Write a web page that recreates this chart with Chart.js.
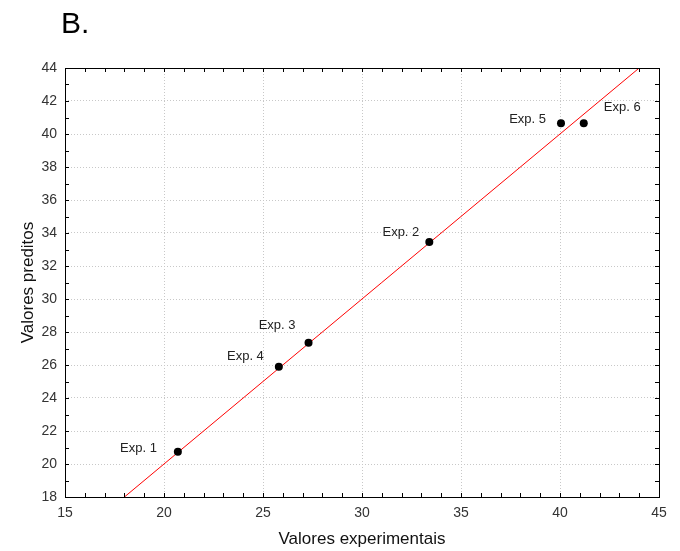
<!DOCTYPE html>
<html>
<head>
<meta charset="utf-8">
<script src="https://cdn.jsdelivr.net/npm/chart.js@4"></script>
<style>
    html, body { margin: 0; padding: 0; background: #fff; }
    #wrap { width: 680px; height: 551px; }
</style>
</head>
<body>
<div id="wrap"><canvas id="predChart" width="680" height="551"></canvas></div>
<script>
const expLabels = ['Exp. 1', 'Exp. 2', 'Exp. 3', 'Exp. 4', 'Exp. 5', 'Exp. 6'];
const experimental = [20.7, 33.4, 27.3, 25.8, 40.05, 41.2];
const predicted = [20.75, 33.45, 27.35, 25.9, 40.65, 40.65];
const fitX = [18, 44];
const fitY = [18, 44];
const xTicks = [15, 20, 25, 30, 35, 40, 45];
const yTicks = [18, 20, 22, 24, 26, 28, 30, 32, 34, 36, 38, 40, 42, 44];

const FONT = '"Liberation Sans", Arial, sans-serif';

// where each point's label sits relative to its dot (px)
const labelOffsets = [
    [-21, -3, 'right'],
    [-10, -10, 'right'],
    [-13, -17, 'right'],
    [-15, -10, 'right'],
    [-15, -4, 'right'],
    [20, -16, 'left']
];

const framePlugin = {
    id: 'frame',
    beforeDraw(chart) {
        const ctx = chart.ctx;
        ctx.save();
        ctx.fillStyle = '#fff';
        ctx.fillRect(0, 0, chart.width, chart.height);
        ctx.fillStyle = '#000';
        ctx.font = '30px ' + FONT;
        ctx.textBaseline = 'alphabetic';
        ctx.textAlign = 'left';
        ctx.fillText('B.', 61, 33);
        ctx.restore();
    },
    afterDatasetsDraw(chart) {
        const ctx = chart.ctx;
        const a = chart.chartArea;
        const xs = chart.scales.x;
        const ys = chart.scales.y;
        ctx.save();
        ctx.strokeStyle = '#000';
        ctx.lineWidth = 1;
        ctx.beginPath();
        // minor ticks, pointing inward on all four sides
        for (let v = xs.min; v <= xs.max; v++) {
            const px = Math.round(xs.getPixelForValue(v)) + 0.5;
            ctx.moveTo(px, a.bottom); ctx.lineTo(px, a.bottom - 4);
            ctx.moveTo(px, a.top); ctx.lineTo(px, a.top + 4);
        }
        for (let v = ys.min; v <= ys.max; v++) {
            const py = Math.round(ys.getPixelForValue(v)) + 0.5;
            ctx.moveTo(a.left, py); ctx.lineTo(a.left + 4, py);
            ctx.moveTo(a.right, py); ctx.lineTo(a.right - 4, py);
        }
        ctx.stroke();
        ctx.strokeRect(Math.round(a.left) + 0.5, Math.round(a.top) + 0.5,
            Math.round(a.right - a.left), Math.round(a.bottom - a.top));

        // point labels
        ctx.fillStyle = '#222';
        ctx.font = '13px ' + FONT;
        ctx.textBaseline = 'middle';
        const meta = chart.getDatasetMeta(1);
        meta.data.forEach((pt, i) => {
            const off = labelOffsets[i];
            ctx.textAlign = off[2];
            ctx.fillText(expLabels[i], pt.x + off[0], pt.y + off[1]);
        });
        ctx.restore();
    }
};

const ctx = document.getElementById('predChart').getContext('2d');
const predChart = new Chart(ctx, {
    type: 'scatter',
    data: {
        datasets: [{
            type: 'line',
            label: 'Ajuste',
            data: fitX.map((x, i) => ({ x: x, y: fitY[i] })),
            borderColor: '#ff0000',
            borderWidth: 1,
            pointRadius: 0,
            fill: false,
            order: 2
        }, {
            label: 'Experimentos',
            data: experimental.map((x, i) => ({ x: x, y: predicted[i] })),
            backgroundColor: '#000',
            borderColor: '#000',
            borderWidth: 0,
            pointRadius: 4,
            order: 1
        }]
    },
    options: {
        responsive: false,
        animation: false,
        layout: {
            padding: { top: 68, right: 21, left: 0, bottom: 0 }
        },
        plugins: {
            legend: { display: false },
            tooltip: { enabled: false }
        },
        scales: {
            x: {
                type: 'linear',
                min: 15,
                max: 45,
                afterBuildTicks: scale => { scale.ticks = xTicks.map(v => ({ value: v })); },
                afterFit: scale => { scale.height = 54; },
                grid: {
                    color: '#c8c8c8',
                    lineWidth: 1,
                    drawTicks: false
                },
                border: { display: false, dash: [1, 2] },
                ticks: {
                    padding: 8,
                    color: '#333',
                    font: { family: FONT, size: 14 },
                    maxRotation: 0
                },
                title: {
                    display: true,
                    text: 'Valores experimentais',
                    color: '#111',
                    font: { family: FONT, size: 17 },
                    padding: { top: 0, bottom: 1 }
                }
            },
            y: {
                type: 'linear',
                min: 18,
                max: 44,
                afterBuildTicks: scale => { scale.ticks = yTicks.map(v => ({ value: v })); },
                afterFit: scale => { scale.width = 65; },
                grid: {
                    color: '#c8c8c8',
                    lineWidth: 1,
                    drawTicks: false
                },
                border: { display: false, dash: [1, 2] },
                ticks: {
                    padding: 8,
                    color: '#333',
                    font: { family: FONT, size: 14 }
                },
                title: {
                    display: true,
                    text: 'Valores preditos',
                    color: '#111',
                    font: { family: FONT, size: 17 },
                    padding: { top: 18, bottom: 0 }
                }
            }
        }
    },
    plugins: [framePlugin]
});
</script>
</body>
</html>
